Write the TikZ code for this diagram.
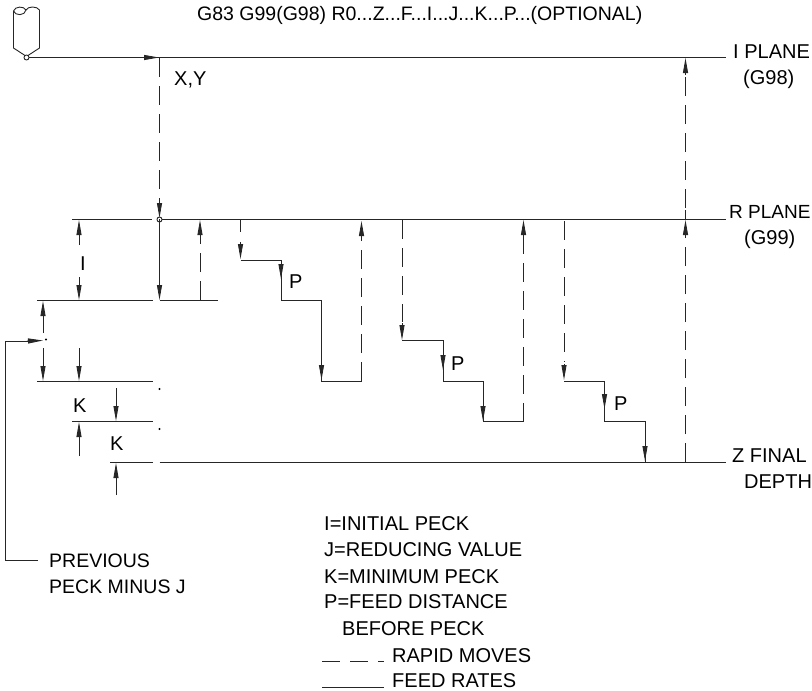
\documentclass[tikz,border=0pt]{standalone}
\usepackage{fontspec}
\setmainfont{Liberation Sans}
\usetikzlibrary{arrows.meta}
\tikzset{
  line/.style={line width=0.9pt,black!85},
  rapid/.style={line, dash pattern=on 19pt off 9pt},
  tip/.style={-{Triangle[length=15pt,width=5pt]}},
  txt/.style={anchor=base west,inner sep=0pt,font=\fontsize{20}{24}\selectfont},
  txts/.style={txt,font=\fontsize{19.5}{24}\selectfont}
}
\newcommand{\lbl}[3]{\node[txt] (#1) at #2 {#3};}
\begin{document}
\begin{tikzpicture}[x=1pt,y=-1pt]
\useasboundingbox (0,0) rectangle (812,691);
% tool
\draw[line] (13.5,11) -- (13.5,48) -- (25,55.5);
\draw[line] (39.5,10) -- (39.5,48) -- (28,55.5);
\draw[line] (13.5,11) .. controls (15,6) and (24,6) .. (26,10) .. controls (28,6) and (37,6) .. (39.5,10);
\draw[line] (13.5,11) .. controls (15,16) and (25,16) .. (26,10);
\node[circle,draw=black!85,line width=0.9pt,inner sep=0pt,minimum size=5pt] (toolpt) at (26.5,57.5) {};
% planes
\coordinate (iend) at (726,57.5);
\draw[line] (toolpt) -- (iend);
\draw[line,tip] (143,57.5) -- (159,57.5);
\node[circle,draw=black!85,line width=0.9pt,inner sep=0pt,minimum size=5pt] (rpt) at (159.5,219.5) {};
\draw[line] (72,219.5) -- (152,219.5);
\draw[line] (rpt.east) -- (726,219.5);
\draw[line] (37,300) -- (153,300);
\draw[line] (159.5,300) -- (218,300);
\draw[line] (37,381) -- (153,381);
\draw[line] (72,421.5) -- (153,421.5);
\draw[line] (110,462) -- (153,462);
\draw[line] (159.5,462) -- (726,462);
% first plunge
\draw[rapid] (159.5,58) -- (159.5,200);
\draw[line,tip] (159.5,200) -- (159.5,218);
\draw[line] (159.5,219) -- (159.5,285);
\draw[line,tip] (159.5,282) -- (159.5,300);
\draw[rapid] (200,300) -- (200,236);
\draw[line,tip] (200,236) -- (200,220);
% I dimension
\draw[line,tip] (79,245) -- (79,220);
\draw[line,tip] (79,277) -- (79,300);
% previous peck
\draw[line,tip] (43,333) -- (43,301);
\draw[line,tip] (43,348) -- (43,381);
\draw[line,tip] (79,348) -- (79,381);
\draw[line] (38,560) -- (5,560) -- (5,341);
\draw[line] (5,341) -- (28,341);
\draw[line,tip] (27,341) -- (43,340.5);
\fill[black] (46,339.5) circle (1.2pt);
\fill[black] (159.5,389) circle (1.2pt);
\fill[black] (159.5,429) circle (1.2pt);
% K dimensions
\draw[line,tip] (116,388) -- (116,421);
\draw[line,tip] (79,456) -- (79,422);
\draw[line,tip] (116,495) -- (116,463);
% step 1
\draw[line] (240.5,220) -- (240.5,232);
\draw[line,tip] (240.5,242) -- (240.5,259);
\draw[line] (240.5,260) -- (281,260) -- (281,300) -- (321.5,300) -- (321.5,381) -- (361.5,381);
\draw[line,tip] (281,262) -- (281,279);
\draw[line,tip] (321.5,364) -- (321.5,380);
\draw[rapid] (361.5,381) -- (361.5,238);
\draw[line,tip] (361.5,238) -- (361.5,221);
% step 2
\draw[rapid] (402,220) -- (402,322);
\draw[line,tip] (402,323) -- (402,340);
\draw[line] (402,340.5) -- (443,340.5) -- (443,381) -- (483,381) -- (483,421.5) -- (523.5,421.5);
\draw[line,tip] (443,353) -- (443,370);
\draw[line,tip] (483,405) -- (483,421);
\draw[rapid] (523.5,421.5) -- (523.5,236);
\draw[line,tip] (523.5,236) -- (523.5,220);
% step 3
\draw[rapid] (564,221) -- (564,362);
\draw[line,tip] (564,364) -- (564,380);
\draw[line] (564,381) -- (604.5,381) -- (604.5,421.5) -- (645,421.5) -- (645,462);
\draw[line,tip] (604.5,393) -- (604.5,409);
\draw[line,tip] (645,445) -- (645,461);
\draw[rapid] (685.5,462) -- (685.5,236);
\draw[line,tip] (685.5,236) -- (685.5,220);
\draw[line] (685.5,219) -- (685.5,210);
\draw[rapid] (685.5,208) -- (685.5,76);
\draw[line,tip] (685.5,75) -- (685.5,58);
% legend lines
\draw[rapid,dash pattern=on 18pt off 10pt] (322,661.5) -- (384,661.5);
\draw[line] (322,687) -- (384,687);
% text
\node[txts] (title) at (197,20) {G83 G99(G98) R0...Z...F...I...J...K...P...(OPTIONAL)};
\lbl{xy}{(174,85)}{X,Y}
\lbl{ipl}{(733,58)}{I PLANE}
\lbl{g98}{(743,84)}{(G98)}
\node[txt,font=\fontsize{19}{24}\selectfont] (rpl) at (729,218) {R PLANE};
\lbl{g99}{(744,244)}{(G99)}
\lbl{zfin}{(732,462)}{Z FINAL}
\lbl{dep}{(744,488)}{DEPTH}
\lbl{ilab}{(79.8,270)}{I}
\lbl{k1}{(73,412)}{K}
\lbl{k2}{(110,450)}{K}
\lbl{p1}{(289,288)}{P}
\lbl{p2}{(451,370)}{P}
\lbl{p3}{(614,410)}{P}
\node[txts] (prev) at (49,567) {PREVIOUS};
\node[txts] (minus) at (49,593) {PECK MINUS J};
\lbl{l1}{(324,530)}{I=INITIAL PECK}
\lbl{l2}{(324,556)}{J=REDUCING VALUE}
\lbl{l3}{(324,583)}{K=MINIMUM PECK}
\lbl{l4}{(324,608)}{P=FEED DISTANCE}
\lbl{l5}{(342,635)}{BEFORE PECK}
\lbl{l6}{(392,662)}{RAPID MOVES}
\lbl{l7}{(392,687)}{FEED RATES}
\end{tikzpicture}
\end{document}
